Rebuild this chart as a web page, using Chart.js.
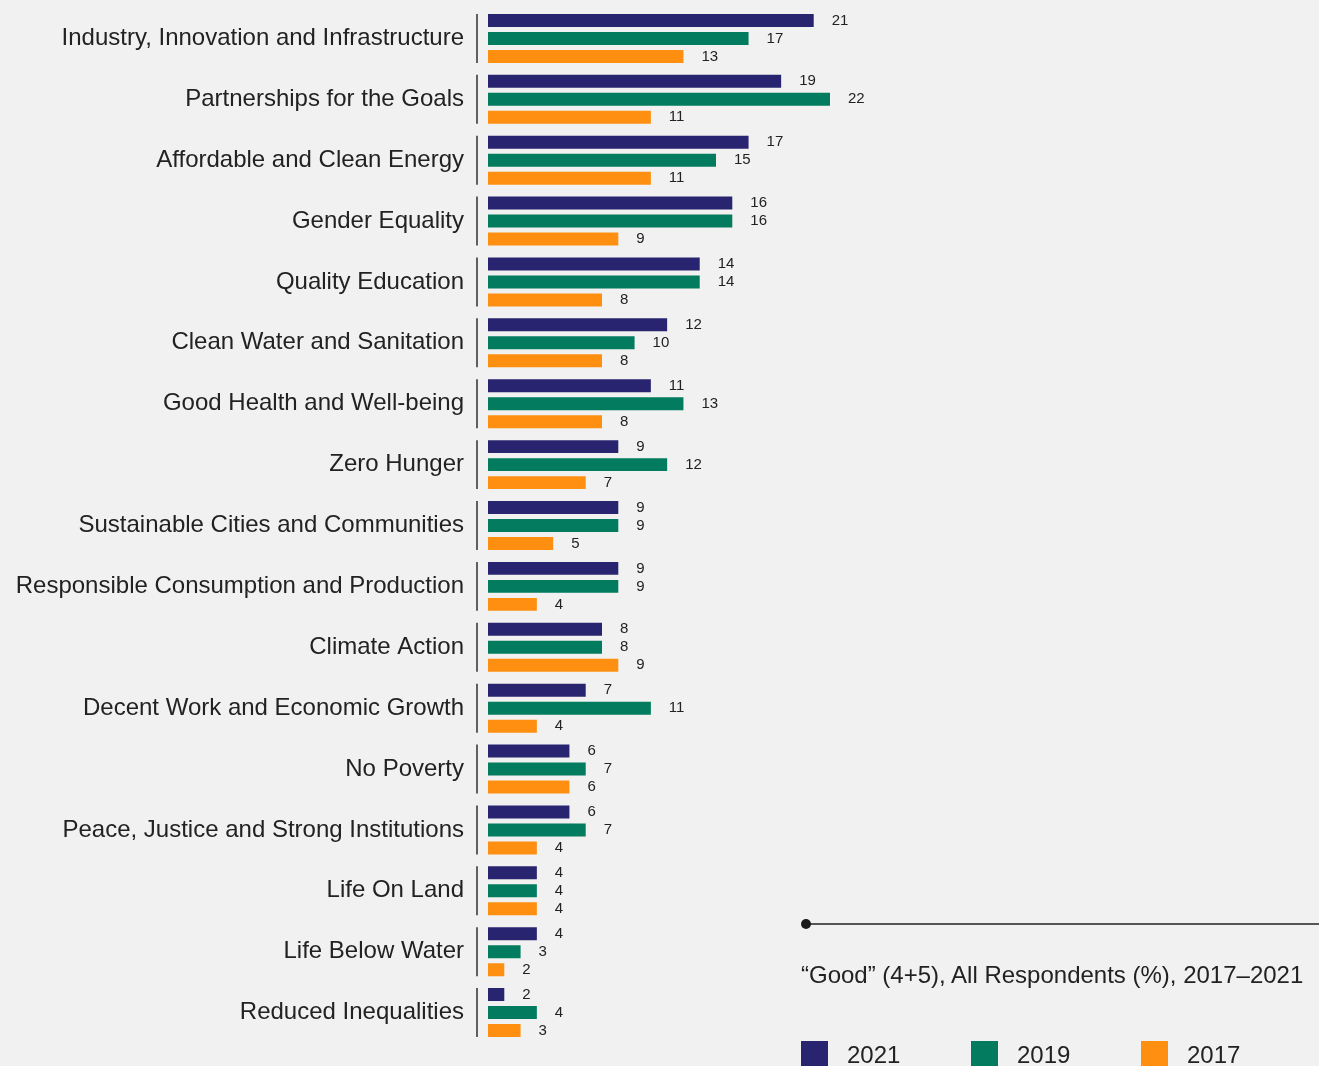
<!DOCTYPE html>
<html>
<head>
<meta charset="utf-8">
<script src="https://cdn.jsdelivr.net/npm/chart.js@4.4.1/dist/chart.umd.min.js"></script>
<style>
  html, body { margin: 0; padding: 0; background: #f0f1f0; }
  #wrap { position: relative; width: 1319px; height: 1066px; overflow: hidden; font-family: "Liberation Sans", Arial, sans-serif; color: #222; }
  #chart { position: absolute; left: 0; top: 0; }
  #rule { position: absolute; left: 806px; top: 923px; width: 520px; height: 2px; background: #555; }
  #dot { position: absolute; left: 801px; top: 919px; width: 10px; height: 10px; border-radius: 50%; background: #1a1a1a; }
  #title { position: absolute; left: 801px; top: 961px; font-size: 24px; line-height: 28px; white-space: nowrap; }
  .key { position: absolute; top: 1041px; font-size: 24px; line-height: 28px; white-space: nowrap; }
  .key span { display: inline-block; width: 27px; height: 27px; vertical-align: top; margin-right: 19px; }
</style>
</head>
<body>
<div id="wrap">
  <canvas id="chart" width="1319" height="1066"></canvas>
  <div id="rule"></div>
  <div id="dot"></div>
  <div id="title">“Good” (4+5), All Respondents (%), 2017–2021</div>
  <div class="key" style="left:801px"><span style="background:#29246f"></span>2021</div>
  <div class="key" style="left:971px"><span style="background:#027b5e"></span>2019</div>
  <div class="key" style="left:1141px"><span style="background:#fe8f11"></span>2017</div>
</div>
<script>
// Categories and values
const categories = [
  'Industry, Innovation and Infrastructure',
  'Partnerships for the Goals',
  'Affordable and Clean Energy',
  'Gender Equality',
  'Quality Education',
  'Clean Water and Sanitation',
  'Good Health and Well-being',
  'Zero Hunger',
  'Sustainable Cities and Communities',
  'Responsible Consumption and Production',
  'Climate Action',
  'Decent Work and Economic Growth',
  'No Poverty',
  'Peace, Justice and Strong Institutions',
  'Life On Land',
  'Life Below Water',
  'Reduced Inequalities'
];
const values2021 = [21, 19, 17, 16, 14, 12, 11, 9, 9, 9, 8, 7, 6, 6, 4, 4, 2];
const values2019 = [17, 22, 15, 16, 14, 10, 13, 12, 9, 9, 8, 11, 7, 7, 4, 3, 4];
const values2017 = [13, 11, 11, 9, 8, 8, 8, 7, 5, 4, 9, 4, 6, 4, 4, 2, 3];

const colors = ['#29246f', '#027b5e', '#fe8f11'];

// Draws the value next to each bar
const valueLabels = {
  id: 'valueLabels',
  afterDatasetsDraw(chart) {
    const ctx = chart.ctx;
    ctx.save();
    ctx.font = '15px "Liberation Sans", Arial, sans-serif';
    ctx.fillStyle = '#222';
    ctx.textAlign = 'left';
    ctx.textBaseline = 'middle';
    chart.data.datasets.forEach((ds, i) => {
      chart.getDatasetMeta(i).data.forEach((bar, j) => {
        ctx.fillText(ds.data[j], bar.x + 18, bar.y);
      });
    });
    ctx.restore();
  }
};

// Vertical rule to the left of each group of bars
const groupRules = {
  id: 'groupRules',
  afterDatasetsDraw(chart) {
    const ctx = chart.ctx;
    const first = chart.getDatasetMeta(0).data;
    const last = chart.getDatasetMeta(2).data;
    ctx.save();
    ctx.strokeStyle = '#222';
    ctx.lineWidth = 1.4;
    first.forEach((bar, j) => {
      const top = bar.y - bar.height / 2;
      const bottom = last[j].y + last[j].height / 2;
      const x = chart.chartArea.left - 11;
      ctx.beginPath();
      ctx.moveTo(x, top);
      ctx.lineTo(x, bottom);
      ctx.stroke();
    });
    ctx.restore();
  }
};

new Chart(document.getElementById('chart'), {
  type: 'bar',
  data: {
    labels: categories,
    datasets: [
      { label: '2021', data: values2021, backgroundColor: colors[0] },
      { label: '2019', data: values2019, backgroundColor: colors[1] },
      { label: '2017', data: values2017, backgroundColor: colors[2] }
    ]
  },
  options: {
    indexAxis: 'y',
    responsive: false,
    animation: false,
    layout: { padding: { top: 8, bottom: 23, left: 0, right: 489 } },
    datasets: { bar: { categoryPercentage: 0.887, barPercentage: 0.72 } },
    plugins: { legend: { display: false }, tooltip: { enabled: false } },
    scales: {
      x: { display: false, min: 1, max: 22 },
      y: {
        grid: { display: false, drawTicks: false },
        border: { display: false },
        ticks: {
          padding: 24,
          color: '#222',
          font: { family: '"Liberation Sans", Arial, sans-serif', size: 24 }
        },
        afterFit(scale) {
          scale.width = 488;
          scale.paddingTop = 0;
          scale.paddingBottom = 0;
        }
      }
    }
  },
  plugins: [valueLabels, groupRules]
});
</script>
</body>
</html>
